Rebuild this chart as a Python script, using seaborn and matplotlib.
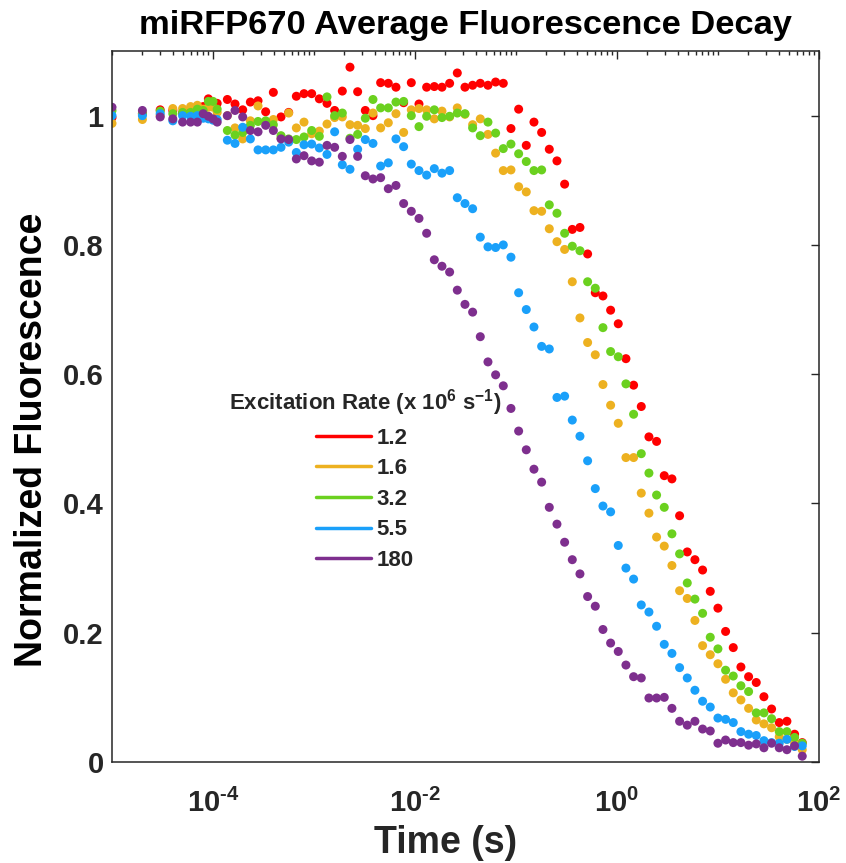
import numpy as np
import pandas as pd
import matplotlib
matplotlib.use("Agg")
import matplotlib.pyplot as plt
import seaborn as sns
from matplotlib.lines import Line2D
from matplotlib.ticker import FixedLocator, NullFormatter

# ---------------- data ----------------
times = [1e-5, 2e-5, 3e-5, 4e-5, 5e-5, 6e-5, 7e-5, 8e-5, 9e-5, 1.0e-4, 1.1e-4,
         1.387e-4, 1.652e-4, 1.968e-4, 2.344e-4, 2.792e-4, 3.323e-4, 3.958e-4, 4.714e-4,
         5.614e-4, 6.686e-4, 7.962e-4, 9.483e-4, 1.129e-3, 1.345e-3, 1.601e-3, 1.907e-3,
         2.271e-3, 2.705e-3, 3.221e-3, 3.836e-3, 4.569e-3, 5.441e-3, 6.48e-3, 7.717e-3,
         9.19e-3, 1.095e-2, 1.304e-2, 1.553e-2, 1.849e-2, 2.202e-2,
         2.623e-2, 3.124e-2, 3.72e-2, 4.431e-2, 5.277e-2, 6.284e-2, 7.484e-2, 8.913e-2,
         0.1062, 0.1264, 0.1506, 0.1794, 0.2136, 0.2544, 0.303,
         0.3608, 0.4297, 0.5118, 0.6095, 0.7259, 0.8646, 1.029, 1.226, 1.46, 1.739,
         2.071, 2.466, 2.937, 3.498, 4.166,
         4.962, 5.909, 7.038, 8.382, 9.982, 11.89, 14.16, 16.86, 20.09, 23.92, 28.49,
         33.93, 40.41, 48.12, 57.31, 68.26]

rate_labels = ["1.2", "1.6", "3.2", "5.5", "180"]

fluor_1_2 = [0.997, 1.003, 1.009, 1.008, 1.004, 1.007, 1.012, 1.014, 1.026, 1.021, 1.019,
             1.025, 1.018, 1.009, 1.021, 1.023, 1.006, 1.036, 0.998, 1.005, 1.030, 1.034, 1.034, 1.026, 1.019, 1.008, 1.038,
             1.075, 1.037, 1.008, 1.000, 1.051, 1.050, 1.044, 1.020, 1.051, 1.018, 1.044, 1.045, 1.044, 1.050,
             1.066, 1.044, 1.047, 1.050, 1.047, 1.052, 1.050, 0.980, 1.010, 0.954, 0.990, 0.974, 0.948, 0.930, 0.894,
             0.824, 0.827, 0.786, 0.726, 0.721, 0.699, 0.678, 0.624, 0.583, 0.550, 0.503, 0.496, 0.443, 0.438, 0.381,
             0.325, 0.313, 0.297, 0.264, 0.238, 0.202, 0.177, 0.147, 0.132, 0.123, 0.101, 0.082, 0.061, 0.063, 0.043, 0.030]

fluor_1_6 = [0.988, 0.994, 1.000, 1.011, 1.011, 1.014, 1.016, 1.010, 1.013, 1.013, 1.005,
             1.000, 0.981, 0.964, 0.992, 1.015, 0.990, 0.994, 0.965, 1.004, 0.981, 0.990, 0.972, 0.976, 0.987, 0.997, 0.998,
             0.986, 0.985, 0.980, 1.004, 0.981, 0.989, 1.003, 0.974, 1.009, 1.011, 1.009, 0.995, 1.007, 0.998,
             1.012, 1.002, 0.986, 0.995, 0.971, 0.942, 0.915, 0.916, 0.890, 0.882, 0.853, 0.852, 0.825, 0.805, 0.793,
             0.743, 0.687, 0.649, 0.630, 0.584, 0.552, 0.524, 0.471, 0.471, 0.416, 0.385, 0.348, 0.334, 0.304, 0.265,
             0.253, 0.219, 0.180, 0.166, 0.152, 0.128, 0.107, 0.096, 0.083, 0.065, 0.059, 0.053, 0.039, 0.035, 0.030, 0.019]

fluor_3_2 = [1.008, 1.003, 1.007, 1.003, 1.005, 1.005, 1.010, 1.008, 1.022, 1.022, 1.010,
             0.977, 0.970, 0.974, 0.985, 0.991, 0.992, 0.986, 0.969, 0.964, 0.963, 0.967, 0.977, 0.968, 1.029, 1.000, 1.004,
             0.965, 0.971, 0.996, 1.025, 1.012, 1.012, 1.021, 1.022, 1.000, 0.983, 0.999, 1.009, 0.997, 0.999,
             1.004, 1.003, 0.981, 0.969, 0.990, 0.973, 0.949, 0.956, 0.941, 0.929, 0.915, 0.916, 0.862, 0.849, 0.818,
             0.798, 0.791, 0.743, 0.733, 0.672, 0.635, 0.627, 0.585, 0.538, 0.477, 0.447, 0.413, 0.394, 0.353, 0.322,
             0.277, 0.252, 0.230, 0.193, 0.175, 0.142, 0.133, 0.118, 0.109, 0.076, 0.076, 0.067, 0.047, 0.047, 0.038, 0.029]

fluor_5_5 = [1.000, 1.000, 1.003, 0.992, 1.000, 0.999, 1.000, 0.996, 0.995, 0.993, 0.994,
             0.962, 0.957, 0.982, 0.964, 0.947, 0.947, 0.947, 0.951, 0.959, 0.943, 0.955, 0.956, 0.950, 0.940, 0.975, 0.924,
             0.917, 0.948, 0.963, 0.957, 0.922, 0.927, 0.964, 0.952, 0.925, 0.915, 0.908, 0.918, 0.911, 0.915,
             0.873, 0.864, 0.856, 0.812, 0.797, 0.796, 0.800, 0.781, 0.726, 0.700, 0.673, 0.643, 0.639, 0.564, 0.566,
             0.529, 0.504, 0.466, 0.423, 0.396, 0.387, 0.335, 0.300, 0.283, 0.243, 0.232, 0.210, 0.182, 0.168, 0.146,
             0.130, 0.111, 0.094, 0.085, 0.068, 0.066, 0.061, 0.047, 0.043, 0.041, 0.033, 0.030, 0.029, 0.035, 0.024, 0.025]

fluor_180 = [1.013, 1.008, 0.998, 0.995, 0.990, 0.990, 0.990, 1.003, 0.999, 0.995, 0.990,
             1.000, 1.008, 0.998, 0.977, 0.975, 0.985, 0.977, 0.964, 0.963, 0.933, 0.938, 0.930, 0.928, 0.954, 0.951, 0.937,
             0.963, 0.937, 0.907, 0.902, 0.904, 0.887, 0.892, 0.864, 0.852, 0.841, 0.818, 0.777, 0.767, 0.758,
             0.730, 0.708, 0.696, 0.658, 0.619, 0.599, 0.582, 0.547, 0.512, 0.483, 0.453, 0.433, 0.394, 0.368, 0.340,
             0.313, 0.291, 0.256, 0.241, 0.205, 0.184, 0.171, 0.150, 0.132, 0.130, 0.099, 0.099, 0.100, 0.083, 0.063,
             0.057, 0.063, 0.051, 0.048, 0.029, 0.034, 0.030, 0.030, 0.026, 0.028, 0.022, 0.029, 0.022, 0.019, 0.025, 0.009]

series = [fluor_1_2, fluor_1_6, fluor_3_2, fluor_5_5, fluor_180]
colors = ["#FF0000", "#EDB120", "#6BD11F", "#1AA0FA", "#7E2F8E"]

x_major = [1e-4, 1e-2, 1e0, 1e2]
x_major_labels = ["$\\mathdefault{10^{\u2010 4}}$", "$\\mathdefault{10^{\u2010 2}}$",
                  "$\\mathdefault{10^{0}}$", "$\\mathdefault{10^{2}}$"]
y_ticks = [0, 0.2, 0.4, 0.6, 0.8, 1.0]
y_tick_labels = ["0", "0.2", "0.4", "0.6", "0.8", "1"]

# ---------------- frame ----------------
frames = []
for lab, vals in zip(rate_labels, series):
    frames.append(pd.DataFrame({"time": times, "fluor": vals, "rate": lab}))
df = pd.concat(frames, ignore_index=True)

sns.set_style("white")
plt.rcParams["font.family"] = ["Liberation Sans", "DejaVu Sans"]
plt.rcParams["font.weight"] = "bold"
plt.rcParams["mathtext.fontset"] = "custom"
plt.rcParams["mathtext.rm"] = "Liberation Sans:bold"
plt.rcParams["mathtext.bf"] = "Liberation Sans:bold"
plt.rcParams["mathtext.it"] = "Liberation Sans:bold"
plt.rcParams["mathtext.default"] = "regular"

fig = plt.figure(figsize=(8.46, 8.63), dpi=100)
ax = fig.add_axes([112 / 846, 1 - 762 / 863, (819 - 112) / 846, (762 - 51) / 863])

sns.scatterplot(data=df, x="time", y="fluor", hue="rate", hue_order=rate_labels,
                palette=colors, s=42, linewidth=0, edgecolor="none", legend=False, ax=ax)

ax.set_xscale("log")
ax.set_xlim(1e-5, 1e2)
ax.set_ylim(0, 1.1)

edge = "#262626"
for sp in ax.spines.values():
    sp.set_visible(True)
    sp.set_color(edge)
    sp.set_linewidth(1.1)

ax.xaxis.set_major_locator(FixedLocator(x_major))
minor = [m * 10.0 ** e for e in range(-5, 2) for m in range(1, 10)
         if not any(abs(m * 10.0 ** e - v) / v < 1e-6 for v in x_major)]
ax.xaxis.set_minor_locator(FixedLocator(minor))
ax.xaxis.set_minor_formatter(NullFormatter())
ax.set_xticklabels(x_major_labels)
ax.set_yticks(y_ticks)
ax.set_yticklabels(y_tick_labels)

ax.tick_params(which="both", direction="in", top=True, right=True, color=edge,
               labelcolor=edge, width=1.0)
ax.tick_params(which="major", length=5.5, labelsize=21)
ax.tick_params(which="minor", length=3)
ax.tick_params(axis="x", which="major", pad=19)
ax.tick_params(axis="y", which="major", pad=6)
for t in ax.get_xticklabels() + ax.get_yticklabels():
    t.set_fontweight("bold")

ax.set_title("miRFP670 Average Fluorescence Decay", fontsize=24.8, fontweight="bold",
             color="black", pad=12)
ax.set_xlabel("Time (s)", fontsize=27, fontweight="bold", color=edge)
ax.set_ylabel("Normalized Fluorescence", fontsize=27, fontweight="bold", color="black")
ax.xaxis.set_label_coords(0.472, -0.088)
ax.yaxis.set_label_coords(-0.088, 0.453)

handles = [Line2D([0], [0], color=c, lw=2.5) for c in colors]
leg = ax.legend(handles, rate_labels, title=r"Excitation Rate (x 10$^{6}$ s$^{-1}$)",
                loc="center", bbox_to_anchor=(365 / 846, 1 - 479 / 863),
                bbox_transform=fig.transFigure, frameon=False,
                prop={"size": 16, "weight": "bold"},
                title_fontproperties={"size": 16, "weight": "bold"},
                handlelength=2.45, handletextpad=0.25, labelspacing=0.43,
                borderpad=0.2)

fig.savefig("out.png", dpi=100)
